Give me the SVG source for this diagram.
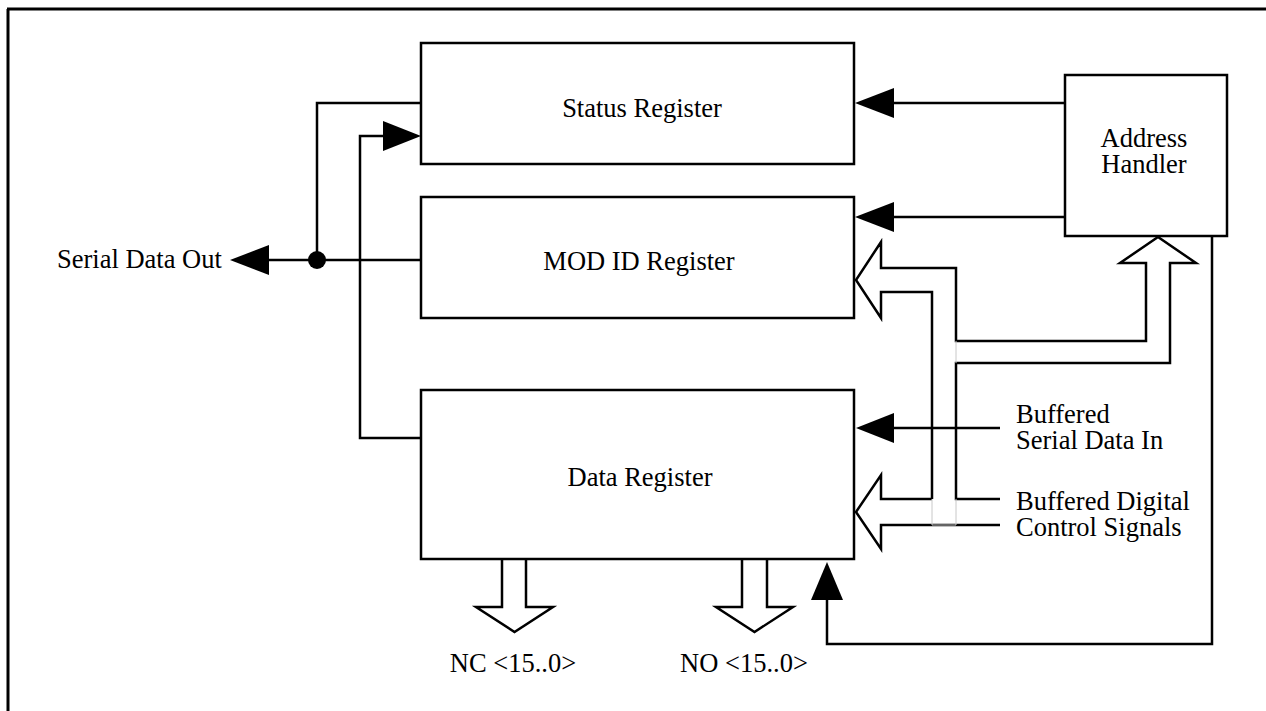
<svg xmlns="http://www.w3.org/2000/svg" width="1266" height="711" viewBox="0 0 1266 711">
<style>
.box{fill:#fff;stroke:#000;stroke-width:2.5}
.ln{fill:none;stroke:#000;stroke-width:2.5}
.bus{fill:#fff;stroke:#000;stroke-width:2.5;stroke-linejoin:miter}
.ah{fill:#000;stroke:none}
.ghost{fill:none;stroke:#c8c8c8;stroke-width:1}
text{font-family:"Liberation Serif","Times New Roman",serif;font-size:26.5px;fill:#000}
</style>
<rect width="1266" height="711" fill="#fff"/>
<g id="frame"><path d="M7,9 H1266 M8,9 V711" fill="none" stroke="#000" stroke-width="3"/></g>
<g id="connectors">
<path class="ln" d="M421,103 H317 V260"/>
<path class="ln" d="M421,260 H266"/>
<polygon class="ah" points="230,260 269,245 269,275"/>
<circle cx="317" cy="260" r="9" fill="#000"/>
<path class="ln" d="M421,438 H360 V136 H386"/>
<polygon class="ah" points="421,136 383,121 383,151"/>
<path class="ln" d="M1065,103 H890"/>
<polygon class="ah" points="855,103 894,88 894,118"/>
<path class="ln" d="M1065,217 H890"/>
<polygon class="ah" points="855,217 894,202 894,232"/>
<path class="bus" d="M932,499 V292 H881 V318 L856,280 L881,242 V268 H956 V341 H1146 V263 H1120 L1158,237 L1196,263 H1170 V363 H956 V499 H1000"/>
<path class="bus" d="M932,499 H881 V475 L856,512 L881,549 V525 H1000"/>
<path class="ghost" d="M956,341 V363 M932,499 V525 M956,499 V525 M932,525 H956"/>
<path class="ln" d="M1000,428 H890"/>
<polygon class="ah" points="856,428 894,413 894,443"/>
<path class="bus" d="M502,559 V607 H476 L514.5,632 L553,607 H526 V559"/>
<path class="bus" d="M742,559 V607 H716 L754.5,632 L793,607 H767 V559"/>
<path class="ln" d="M1212,236 V644 H827 V596"/>
<polygon class="ah" points="827,562 811,600 843,600"/>
</g>
<g id="status-register"><rect class="box" x="421" y="43" width="433" height="121"/><text x="642" y="117" text-anchor="middle">Status Register</text></g>
<g id="modid-register"><rect class="box" x="421" y="197" width="433" height="121"/><text x="639" y="270" text-anchor="middle">MOD ID Register</text></g>
<g id="data-register"><rect class="box" x="421" y="390" width="433" height="169"/><text x="640" y="486" text-anchor="middle">Data Register</text></g>
<g id="address-handler"><rect class="box" x="1065" y="75" width="162" height="161"/><text x="1144" y="147" text-anchor="middle">Address</text><text x="1144" y="173" text-anchor="middle">Handler</text></g>
<g id="labels">
<text x="57" y="268">Serial Data Out</text>
<text x="1016" y="423">Buffered</text>
<text x="1016" y="449">Serial Data In</text>
<text x="1016" y="510">Buffered Digital</text>
<text x="1016" y="536">Control Signals</text>
<text x="513" y="672" text-anchor="middle">NC &lt;15..0&gt;</text>
<text x="744" y="672" text-anchor="middle">NO &lt;15..0&gt;</text>
</g>
</svg>
